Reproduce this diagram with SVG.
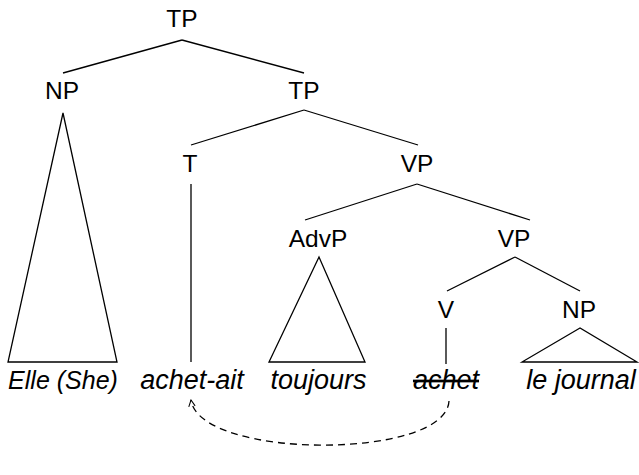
<svg xmlns="http://www.w3.org/2000/svg" width="639" height="475" viewBox="0 0 639 475">
<defs>
<style>
.lbl{font-family:"Liberation Sans",Arial,sans-serif;font-size:24.5px;fill:#000;text-anchor:middle}
.word{font-family:"Liberation Sans",Arial,sans-serif;font-size:27px;font-style:italic;fill:#000;text-anchor:middle}
.edge{stroke:#000;stroke-width:1.3;fill:none}
.mv{stroke:#000;stroke-width:1.3;fill:none;stroke-dasharray:7,5}
</style>
<marker id="ah" viewBox="0 0 10 10" refX="9" refY="5" markerWidth="8" markerHeight="8" orient="auto" markerUnits="userSpaceOnUse">
<path d="M1,1 L9,5 L1,9" fill="none" stroke="#000" stroke-width="1.3"/>
</marker>
</defs>
<rect width="639" height="475" fill="#fff"/>
<g id="connectors">
<line class="edge" x1="182" y1="40" x2="63" y2="73"/>
<line class="edge" x1="182" y1="40" x2="304" y2="73"/>
<line class="edge" x1="304" y1="110" x2="191" y2="145"/>
<line class="edge" x1="304" y1="110" x2="418" y2="145"/>
<line class="edge" x1="191" y1="184" x2="191" y2="362"/>
<line class="edge" x1="417" y1="184" x2="305" y2="220"/>
<line class="edge" x1="417" y1="184" x2="530" y2="220"/>
<line class="edge" x1="515" y1="257" x2="447" y2="291"/>
<line class="edge" x1="515" y1="257" x2="580" y2="291"/>
<line class="edge" x1="446" y1="328" x2="446" y2="364"/>
<path class="edge" d="M63,113 L8,362 L117,362 Z"/>
<path class="edge" d="M319,257 L269,362 L365,362 Z"/>
<path class="edge" d="M580,328 L522,362 L637,362 Z"/>
<path class="mv" d="M449,401 C446,460 200,460 191,400" marker-end="url(#ah)"/>
</g>
<g id="TP1"><text class="lbl" x="182" y="27">TP</text></g>
<g id="NP1"><text class="lbl" x="62" y="99">NP</text></g>
<g id="TP2"><text class="lbl" x="304" y="99">TP</text></g>
<g id="T"><text class="lbl" x="190" y="172">T</text></g>
<g id="VP1"><text class="lbl" x="417" y="172">VP</text></g>
<g id="AdvP"><text class="lbl" x="318" y="247">AdvP</text></g>
<g id="VP2"><text class="lbl" x="514" y="247">VP</text></g>
<g id="V"><text class="lbl" x="446" y="318">V</text></g>
<g id="NP2"><text class="lbl" x="579" y="318">NP</text></g>
<g id="w-elle"><text class="word" x="63" y="389" style="font-size:25px">Elle (She)</text></g>
<g id="w-achetait"><text class="word" x="192" y="389">achet-ait</text></g>
<g id="w-toujours"><text class="word" x="318.5" y="389">toujours</text></g>
<g id="w-achet"><text class="word" x="446" y="389" text-decoration="line-through">achet</text></g>
<g id="w-journal"><text class="word" x="581" y="389">le journal</text></g>
</svg>
